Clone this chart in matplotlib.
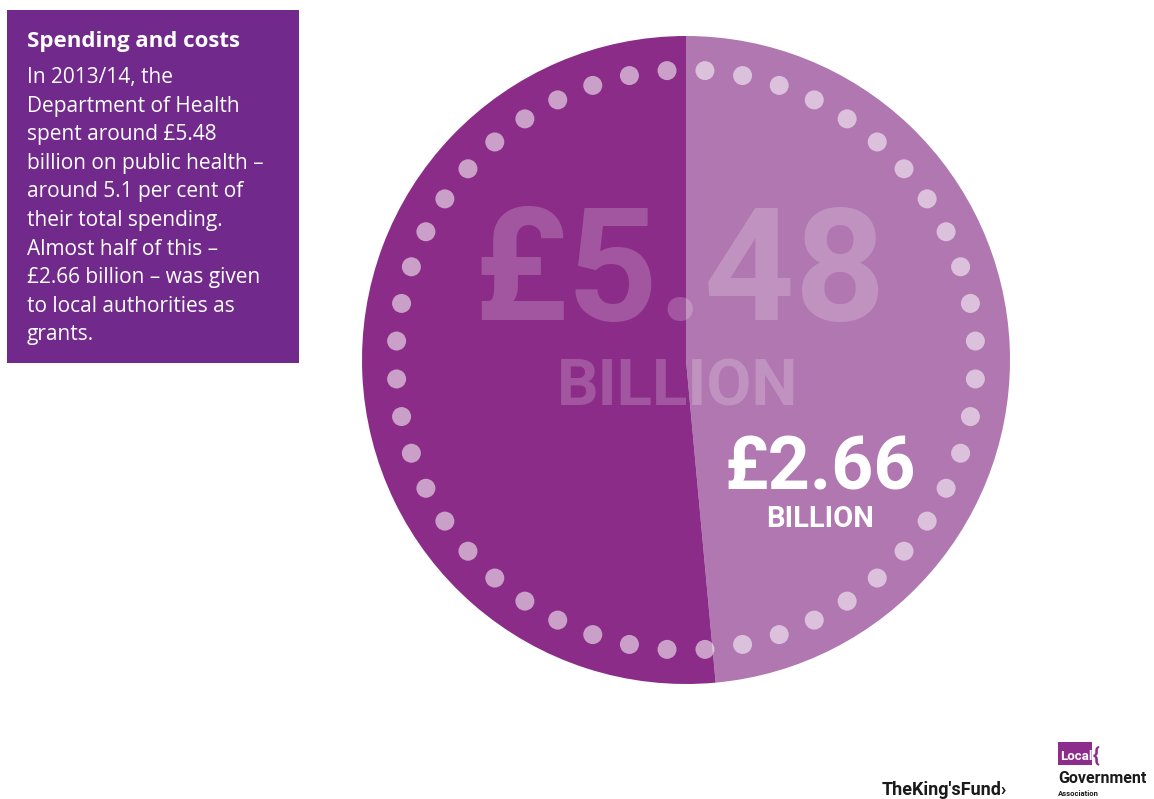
import matplotlib.pyplot as plt
from matplotlib.patches import Circle, Rectangle
import numpy as np

# public health spend 2013/14, £ billion
total_spend = 5.48
grants = 2.66
slice_values = [grants, round(total_spend - grants, 2)]
slice_colors = ["#b077b0", "#8b2d88"]

title = "Spending and costs"
body_lines = [
    "In 2013/14, the",
    "Department of Health",
    "spent around £5.48",
    "billion on public health –",
    "around 5.1 per cent of",
    "their total spending.",
    "Almost half of this –",
    "£2.66 billion – was given",
    "to local authorities as",
    "grants.",
]

W, H = 1154, 799
fig = plt.figure(figsize=(W / 100, H / 100), dpi=100)
fig.patch.set_facecolor("white")
ax = fig.add_axes([0, 0, 1, 1])

cx, cy, R = 686, 439, 324
ax.pie(slice_values, colors=slice_colors, startangle=90, counterclock=False,
       center=(cx, cy), radius=R, wedgeprops=dict(linewidth=0))

# ring of dots
n_dots = 48
step = 360 / n_dots
for k in range(n_dots):
    a = np.radians(90 - step / 2 - step * k)
    ax.add_patch(Circle((cx + 290 * np.cos(a), cy + 290 * np.sin(a)), 9.5,
                        facecolor="white", alpha=0.55, linewidth=0, zorder=3))

big = "Roboto"
ax.text(680, 479, f"£{total_spend:.2f}", ha="center", va="baseline",
        fontsize=114, fontweight="bold", family=big, color="white", alpha=0.2, zorder=4)
ax.text(678, 394, "BILLION", ha="center", va="baseline",
        fontsize=47, fontweight="bold", family=big, color="white", alpha=0.2, zorder=4)
ax.text(820, 309, f"£{grants:.2f}", ha="center", va="baseline",
        fontsize=53, fontweight="bold", family=big, color="white", zorder=4)
ax.text(820, 272, "BILLION", ha="center", va="baseline",
        fontsize=21, fontweight="bold", family=big, color="white", zorder=4)

# text panel
ax.add_patch(Rectangle((7, 436), 292, 353, facecolor="#71298c", linewidth=0))
ax.text(27, 752, title, ha="left", va="baseline", fontsize=16,
        fontweight="bold", family="Open Sans", color="white")
for i, line in enumerate(body_lines):
    ax.text(27, 716 - i * 28.6, line, ha="left", va="baseline", fontsize=15,
            family="Open Sans", color="white")

# logos
ax.text(882, 4, "TheKing'sFund\u203a", ha="left", va="baseline", fontsize=13,
        fontweight="bold", family="Roboto", color="#1a1a1a")
ax.add_patch(Rectangle((1058, 34), 34, 23, facecolor="#8e2c8e", linewidth=0))
ax.text(1060, 39, "Local", ha="left", va="baseline", fontsize=9.5,
        fontweight="bold", family="Roboto", color="white")
ax.text(1093, 38, "{", ha="left", va="baseline", fontsize=15,
        fontweight="bold", family="Roboto", color="#8e2c8e")
ax.text(1058, 16, "Government", ha="left", va="baseline", fontsize=11.5,
        fontweight="bold", family="Roboto", color="#1a1a1a")
ax.text(1058, 3, "Association", ha="left", va="baseline", fontsize=5.5,
        fontweight="bold", family="Roboto", color="#1a1a1a")

ax.set_xlim(0, W)
ax.set_ylim(0, H)
ax.set_aspect("equal")
ax.axis("off")

fig.savefig("out.png", dpi=100, facecolor="white")
